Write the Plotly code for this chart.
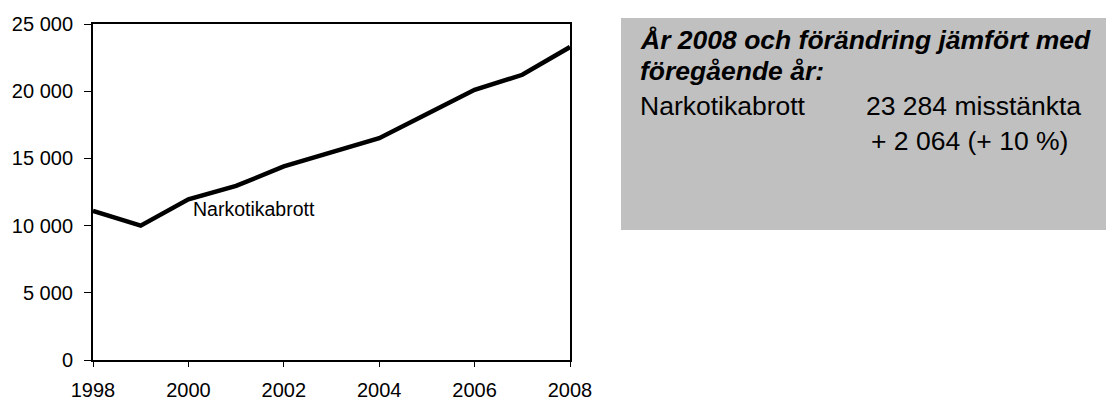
import plotly.graph_objects as go

years = [1998, 1999, 2000, 2001, 2002, 2003, 2004, 2005, 2006, 2007, 2008]
narkotikabrott = [11100, 10000, 11950, 12950, 14400, 15450, 16500, 18300, 20100, 21220, 23284]
y_ticks = [0, 5000, 10000, 15000, 20000, 25000]
y_tick_labels = ["0", "5 000", "10 000", "15 000", "20 000", "25 000"]
x_ticks = [1998, 2000, 2002, 2004, 2006, 2008]

FONT = "Liberation Sans, Arial, sans-serif"
OFF = 8  # page body margin
W, H = 1114 - OFF, 401 - OFF
# plot area in screen coordinates
L, R, T, B = 93, 570, 24, 360

def px(xs):
    return (xs - L) / (R - L)

def py(ys):
    return (B - ys) / (B - T)

fig = go.Figure()
fig.add_trace(go.Scatter(x=years, y=narkotikabrott, mode="lines",
                         line=dict(color="black", width=4.5), hoverinfo="skip",
                         showlegend=False, cliponaxis=False))

fig.update_layout(
    width=W, height=H,
    margin=dict(l=L - OFF, r=1114 - R, t=T - OFF, b=401 - B, pad=0, autoexpand=False),
    paper_bgcolor="white", plot_bgcolor="white",
    font=dict(family=FONT, size=20, color="black"),
    showlegend=False,
)
fig.update_xaxes(range=[1998, 2008], tickvals=x_ticks, ticktext=[str(v) for v in x_ticks],
                 showgrid=False, zeroline=False, showline=True, linecolor="black", linewidth=2,
                 mirror=True, ticks="outside", ticklen=5, tickwidth=1, tickcolor="black",
                 ticklabelstandoff=6, tickfont=dict(size=20, family=FONT), automargin=False)
fig.update_yaxes(range=[0, 25000], tickvals=y_ticks, ticktext=y_tick_labels,
                 showgrid=False, zeroline=False, showline=True, linecolor="black", linewidth=2,
                 mirror=True, ticks="outside", ticklen=7, tickwidth=1, tickcolor="black",
                 ticklabelstandoff=7, tickfont=dict(size=20, family=FONT), automargin=False)

fig.add_annotation(x=2001.375, y=11200, xref="x", yref="y", text="Narkotikabrott",
                   showarrow=False, font=dict(size=19.5, family=FONT), xanchor="center", yanchor="middle")

# grey info box
fig.add_shape(type="rect", xref="paper", yref="paper", x0=px(621), x1=px(1120), y0=py(230), y1=py(18),
              fillcolor="#C0C0C0", line=dict(width=0), layer="below")

BOX_FONT = 26.5
fig.add_annotation(xref="paper", yref="paper", x=px(638), y=py(40), xanchor="left", yanchor="middle",
                   text="<b><i>År 2008 och förändring jämfört med</i></b>", showarrow=False,
                   font=dict(size=BOX_FONT, family=FONT))
fig.add_annotation(xref="paper", yref="paper", x=px(638), y=py(71), xanchor="left", yanchor="middle",
                   text="<b><i>föregående år:</i></b>", showarrow=False,
                   font=dict(size=BOX_FONT, family=FONT))
fig.add_annotation(xref="paper", yref="paper", x=px(638), y=py(106), xanchor="left", yanchor="middle",
                   text="Narkotikabrott", showarrow=False, font=dict(size=BOX_FONT, family=FONT))
fig.add_annotation(xref="paper", yref="paper", x=px(864), y=py(106), xanchor="left", yanchor="middle",
                   text="23 284 misstänkta", showarrow=False, font=dict(size=BOX_FONT, family=FONT))
fig.add_annotation(xref="paper", yref="paper", x=px(869), y=py(141), xanchor="left", yanchor="middle",
                   text="+ 2 064 (+ 10 %)", showarrow=False, font=dict(size=BOX_FONT, family=FONT))

fig.write_html("out.html")
